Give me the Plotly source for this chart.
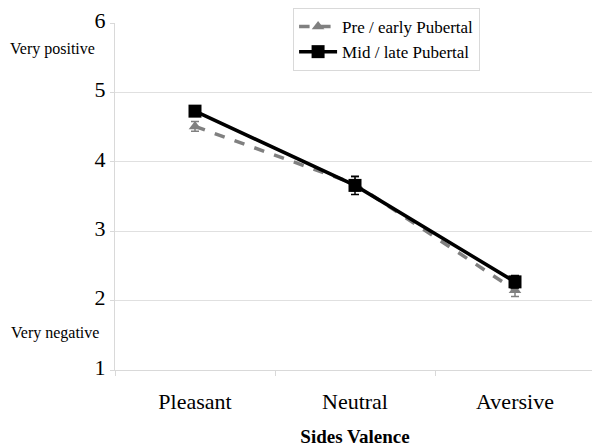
import plotly.graph_objects as go

categories = ["Pleasant", "Neutral", "Aversive"]
pre_early = [4.51, 3.68, 2.15]
pre_err = [0.07, 0.10, 0.09]
mid_late = [4.73, 3.66, 2.27]
mid_err = [0.07, 0.13, 0.09]
y_ticks = [1, 2, 3, 4, 5, 6]

FONT = "Liberation Serif"

fig = go.Figure()
fig.add_trace(go.Scatter(
    x=categories, y=pre_early, name="Pre / early Pubertal", mode="lines+markers",
    line=dict(color="#808080", width=3.5, dash="dash"),
    marker=dict(symbol="triangle-up", size=11, color="#808080"),
    error_y=dict(type="data", array=pre_err, color="#808080", thickness=1.5, width=4),
))
fig.add_trace(go.Scatter(
    x=categories, y=mid_late, name="Mid / late Pubertal", mode="lines+markers",
    line=dict(color="black", width=3.5),
    marker=dict(symbol="square", size=13, color="black"),
    error_y=dict(type="data", array=mid_err, color="black", thickness=1.5, width=4),
))

fig.update_layout(
    width=600, height=448,
    margin=dict(l=107, r=13, t=15, b=86, autoexpand=False),
    paper_bgcolor="white", plot_bgcolor="white",
    font=dict(family=FONT, color="black"),
    showlegend=True,
    legend=dict(x=0.371, y=1.0, xanchor="left", yanchor="top", yref="container",
                bordercolor="#d9d9d9", borderwidth=1, bgcolor="white",
                itemwidth=38, font=dict(size=17, family=FONT)),
    xaxis=dict(type="category", range=[-0.5, 2.5], tickson="boundaries", ticks="outside", ticklen=5,
               tickcolor="#d9d9d9", showline=True, linecolor="#d9d9d9",
               showgrid=False, tickfont=dict(size=22, family=FONT), ticklabelstandoff=12,
               title=dict(text="<b>Sides Valence</b>", font=dict(size=19, family=FONT), standoff=16)),
    yaxis=dict(range=[1, 6], tickvals=y_ticks, ticks="outside", ticklen=4,
               tickcolor="#d9d9d9", showline=True, linecolor="#d9d9d9",
               gridcolor="#e0e0e0", zeroline=False, ticklabelshift=-3,
               ticklabeloverflow="allow",
               tickfont=dict(size=22, family=FONT)),
    annotations=[
        dict(text="Very positive", xref="paper", yref="y", x=0, y=5.63,
             xanchor="right", yanchor="middle", xshift=-18, showarrow=False,
             font=dict(size=16, family=FONT)),
        dict(text="Very negative", xref="paper", yref="y", x=0, y=1.53,
             xanchor="right", yanchor="middle", xshift=-14, showarrow=False,
             font=dict(size=16, family=FONT)),
    ],
)

fig.write_html("out.html")
